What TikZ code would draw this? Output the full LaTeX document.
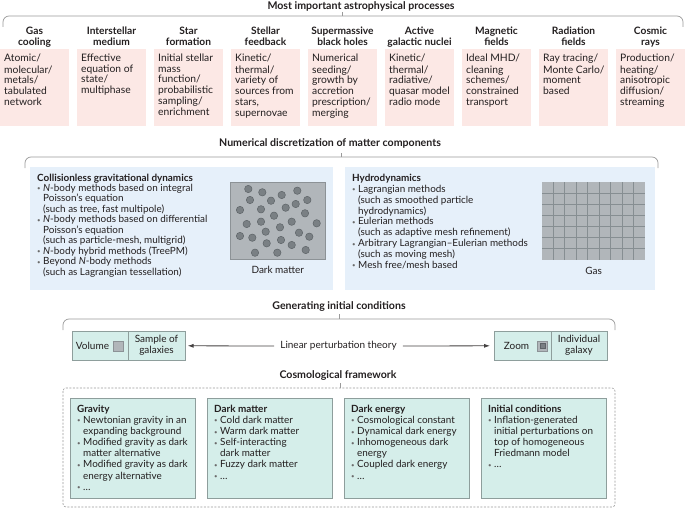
\documentclass[tikz,border=0pt]{standalone}
\usepackage{fontspec}
\setmainfont{Lato}
\usetikzlibrary{arrows.meta}
\definecolor{txt}{HTML}{231F20}
\definecolor{pinkbg}{HTML}{FCE8E5}
\definecolor{bluebg}{HTML}{E6F0FA}
\definecolor{tealbg}{HTML}{D5EEEA}
\definecolor{tealbd}{HTML}{8E9E9C}
\definecolor{brc}{HTML}{9A9A9A}
\definecolor{dmbox}{HTML}{B1B6BA}
\definecolor{dmbd}{HTML}{8C9296}
\definecolor{part}{HTML}{7A8084}
\definecolor{partbd}{HTML}{5E6468}
\definecolor{gridln}{HTML}{868E92}
\definecolor{bulc}{HTML}{6A6A6A}
\newcommand\Bu{\makebox[6pt][l]{\textcolor{bulc}{\raisebox{0.6pt}{\fontsize{6}{6}\selectfont\textbullet}}}}
\newcommand\In{\hspace*{6pt}}
\tikzset{
  bracepath/.style={draw=brc, line width=0.7pt, rounded corners=6pt},
  ttl/.style={font=\fontsize{10.6}{12}\selectfont\bfseries, text=txt, inner sep=1pt},
  hdr/.style={font=\fontsize{10.2}{11}\selectfont\bfseries, align=center, text=txt, inner sep=0pt},
  pinkbox/.style={fill=pinkbg, draw=none, minimum width=69pt, minimum height=77pt, anchor=north west, inner sep=0pt},
  body/.style={font=\fontsize{9.9}{10.7}\selectfont, align=left, text=txt, anchor=north west, inner sep=0pt},
  pbody/.style={body, font=\fontsize{10.3}{10.8}\selectfont},
  bluebox/.style={fill=bluebg, draw=none, anchor=north west, inner sep=0pt},
  tealbox/.style={fill=tealbg, draw=tealbd, line width=0.6pt, anchor=north west, inner sep=0pt},
  lbl/.style={font=\fontsize{10}{10.8}\selectfont, text=txt, align=center, inner sep=0pt},
  particle/.style={fill=part, draw=partbd, line width=0.5pt},
  arr/.style={draw=txt!85, line width=0.8pt, -{Latex[length=6pt,width=4pt]}},
  dashbox/.style={draw=brc, line width=0.6pt, dash pattern=on 2pt off 1.5pt, rounded corners=3pt},
}
\newcommand\procbox[5]{%
  \node[pinkbox] (#2) at (#1,49) {};
  \node[hdr] (#2h) at ([xshift=34.5pt,yshift=-0.5pt]#1,37) {\strut #3\\\strut #4};
  \node[pbody] (#2t) at ([shift={(4,4.5)}]#2.north west) {\strut #5};
}
\begin{document}
\begin{tikzpicture}[x=1pt,y=-1pt]
\useasboundingbox (0,0) rectangle (685,508);

% ---------- Most important astrophysical processes ----------
\node[ttl] (t1) at (361,6) {Most important astrophysical processes};
\coordinate (b1) at (342,16);
\draw[bracepath] (3,27) -- (3,16) -- (683,16) -- (683,27);
\draw[draw=brc, line width=0.7pt] (b1) -- ++(0,-4);

\procbox{0}{p1}{Gas}{cooling}{Atomic/\\molecular/\\metals/\\tabulated\\network}
\procbox{77}{p2}{Interstellar}{medium}{Effective\\equation of\\state/\\multiphase}
\procbox{154}{p3}{Star}{formation}{Initial stellar\\mass\\function/\\probabilistic\\sampling/\\enrichment}
\procbox{231}{p4}{Stellar}{feedback}{Kinetic/\\thermal/\\variety of\\sources from\\stars,\\supernovae}
\procbox{308}{p5}{Supermassive}{black holes}{Numerical\\seeding/\\growth by\\accretion\\prescription/\\merging}
\procbox{385}{p6}{Active}{galactic nuclei}{Kinetic/\\thermal/\\radiative/\\quasar model\\radio mode}
\procbox{462}{p7}{Magnetic}{fields}{Ideal MHD/\\cleaning\\schemes/\\constrained\\transport}
\procbox{539}{p8}{Radiation}{fields}{Ray tracing/\\Monte Carlo/\\moment\\based}
\procbox{616}{p9}{Cosmic}{rays}{Production/\\heating/\\anisotropic\\diffusion/\\streaming}

% ---------- Numerical discretization ----------
\node[ttl] (t2) at (330,143) {Numerical discretization of matter components};
\coordinate (b2) at (341,157);
\draw[bracepath] (25,168) -- (25,157) -- (658,157) -- (658,168);
\draw[draw=brc, line width=0.7pt] (b2) -- ++(0,-4);

\node[bluebox, minimum width=303pt, minimum height=123pt] (cgd) at (30,167) {};
\node[bluebox, minimum width=310pt, minimum height=123pt] (hyd) at (345,167) {};

\node[body, font=\fontsize{9.9}{10.45}\selectfont] (cgdt) at ([shift={(7,6.5)}]cgd.north west) {%
\strut{\bfseries Collisionless gravitational dynamics}\\
\Bu \textit{N}-body methods based on integral\\
\In Poisson’s equation\\
\In (such as tree, fast multipole)\\
\Bu \textit{N}-body methods based on differential\\
\In Poisson’s equation\\
\In (such as particle-mesh, multigrid)\\
\Bu \textit{N}-body hybrid methods (TreePM)\\
\Bu Beyond \textit{N}-body methods\\
\In (such as Lagrangian tessellation)};

\node[body, font=\fontsize{9.9}{10.9}\selectfont] (hydt) at ([shift={(7,6.5)}]hyd.north west) {%
\strut{\bfseries Hydrodynamics}\\
\Bu Lagrangian methods\\
\In (such as smoothed particle\\
\In hydrodynamics)\\
\Bu Eulerian methods\\
\In (such as adaptive mesh refinement)\\
\Bu Arbitrary Lagrangian–Eulerian methods\\
\In (such as moving mesh)\\
\Bu Mesh free/mesh based};

% dark matter box
\node[fill=dmbox, draw=dmbd, line width=0.6pt, minimum width=95pt, minimum height=77pt, anchor=north west, inner sep=0pt] (dm) at (230,182) {};
\foreach \px/\py in {248.3/189,262.3/192.3,281.7/195,297.3/190.7,250/200,271/200.7,295.7/204,307.3/200,285.7/207.7,240/210,261/209.3,305/213.3,274/215.7,246.7/224,261/221.7,291.7/221.7,316.7/223.3,280/227.3,265.7/231.7,299/232.7,240/236,252.3/237.7,309.3/236.7,281/240,266.7/243.3,291.7/245,255/252.7,277.3/252.7,305.7/250}
  \draw[particle] (\px,\py) circle (3.7pt);
\node[lbl, anchor=base] (dml) at ([yshift=-14pt]dm.south) {Dark matter};

% gas grid
\node[fill=dmbox, draw=none, minimum width=103pt, minimum height=78pt, anchor=north west, inner sep=0pt] (gas) at (542,182) {};
\foreach \k in {1,...,8}
  \draw[draw=gridln, line width=1.2pt] ([xshift=\k*11.444pt]gas.north west) -- ([xshift=\k*11.444pt]gas.south west);
\foreach \k in {1,...,6}
  \draw[draw=gridln, line width=1.2pt] ([yshift=-\k*11.143pt]gas.north west) -- ([yshift=-\k*11.143pt]gas.north east);
\node[lbl, anchor=base] (gasl) at ([yshift=-14pt]gas.south) {Gas};

% ---------- Generating initial conditions ----------
\node[ttl] (t3) at (339,307) {Generating initial conditions};
\coordinate (b3) at (339,319);
\draw[bracepath] (63,330) -- (63,319) -- (615,319) -- (615,330);
\draw[draw=brc, line width=0.7pt] (b3) -- ++(0,-5);

\node[tealbox, minimum width=113pt, minimum height=29pt] (icL) at (72,331) {};
\draw[draw=tealbd, line width=0.6pt] ([xshift=56pt]icL.north west) -- ([xshift=56pt]icL.south west);
\node[lbl] (vol) at (92.5,346) {Volume};
\node[fill=dmbox, draw=dmbd, line width=0.6pt, minimum size=10pt, inner sep=0pt] (sqL) at (118.5,346) {};
\node[lbl] (samp) at (156.5,345.5) {Sample of\\galaxies};

\node[tealbox, minimum width=113pt, minimum height=29pt] (icR) at (494,331) {};
\draw[draw=tealbd, line width=0.6pt] ([xshift=57pt]icR.north west) -- ([xshift=57pt]icR.south west);
\node[lbl] (zoom) at (516.5,346) {Zoom};
\node[fill=dmbox, draw=dmbd, line width=0.6pt, minimum size=10pt, inner sep=0pt] (sqR) at (542.5,346) {};
\node[fill=part, draw=partbd, line width=0.4pt, minimum size=5pt, inner sep=0pt] (sqRi) at (sqR.center) {};
\node[lbl] (indiv) at (579,345.5) {Individual\\galaxy};

\node[lbl, inner xsep=6pt] (lpt) at (338.5,346) {Linear perturbation theory};
\draw[arr, shorten >=2pt] (lpt.west) -- (icL.east);
\draw[arr, shorten >=4pt] (lpt.east) -- (icR.west);

% ---------- Cosmological framework ----------
\node[ttl] (t4) at (338,376) {Cosmological framework};
\coordinate (b4) at (340,388);
\draw[dashbox] (63,388) rectangle (615,507);
\draw[draw=brc, line width=0.6pt] (b4) -- ++(0,-5);

\node[tealbox, minimum width=125pt, minimum height=100pt] (cf1) at (70,398) {};
\node[tealbox, minimum width=125pt, minimum height=100pt] (cf2) at (207,398) {};
\node[tealbox, minimum width=125pt, minimum height=100pt] (cf3) at (344,398) {};
\node[tealbox, minimum width=125pt, minimum height=100pt] (cf4) at (481,398) {};

\node[body, font=\fontsize{9.9}{11.1}\selectfont] (cf1t) at ([shift={(7,6.5)}]cf1.north west) {%
\strut{\bfseries Gravity}\\
\Bu Newtonian gravity in an\\
\In expanding background\\
\Bu Modified gravity as dark\\
\In matter alternative\\
\Bu Modified gravity as dark\\
\In energy alternative\\
\Bu …};
\node[body, font=\fontsize{9.9}{11.1}\selectfont] (cf2t) at ([shift={(7,6.5)}]cf2.north west) {%
\strut{\bfseries Dark matter}\\
\Bu Cold dark matter\\
\Bu Warm dark matter\\
\Bu Self-interacting\\
\In dark matter\\
\Bu Fuzzy dark matter\\
\Bu …};
\node[body, font=\fontsize{9.9}{11.1}\selectfont] (cf3t) at ([shift={(7,6.5)}]cf3.north west) {%
\strut{\bfseries Dark energy}\\
\Bu Cosmological constant\\
\Bu Dynamical dark energy\\
\Bu Inhomogeneous dark\\
\In energy\\
\Bu Coupled dark energy\\
\Bu …};
\node[body, font=\fontsize{9.9}{11.1}\selectfont] (cf4t) at ([shift={(7,6.5)}]cf4.north west) {%
\strut{\bfseries Initial conditions}\\
\Bu Inflation-generated\\
\In initial perturbations on\\
\In top of homogeneous\\
\In Friedmann model\\
\Bu …};
\end{tikzpicture}
\end{document}
